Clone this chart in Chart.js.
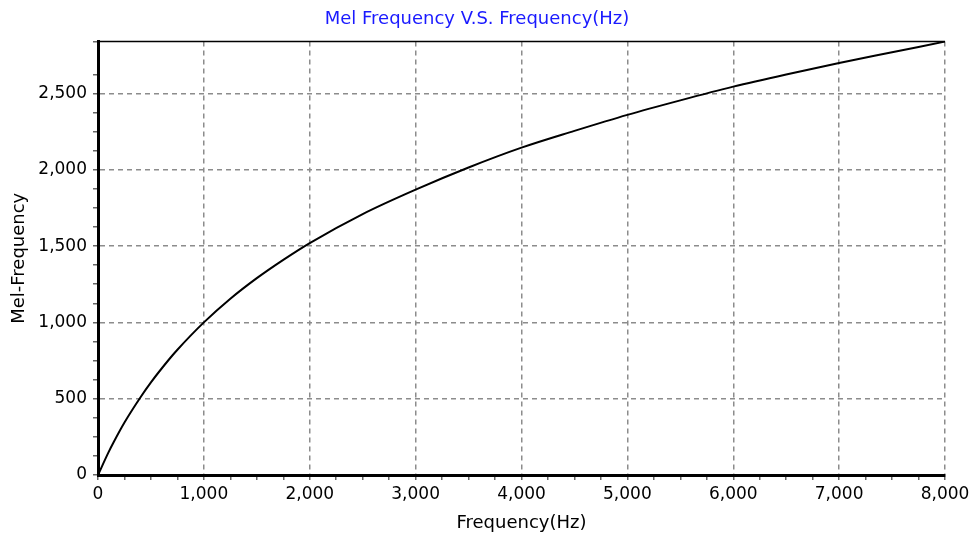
<!DOCTYPE html>
<html>
<head>
<meta charset="utf-8">
<script src="https://cdn.jsdelivr.net/npm/chart.js@4"></script>
<style>
  html, body { margin: 0; padding: 0; background: #fff; }
  #wrap { width: 970px; height: 536px; }
</style>
</head>
<body>
<div id="wrap"><canvas id="chart" width="970" height="536"></canvas></div>
<script>
// values
const freqHz = [0, 100, 150, 250, 400, 500, 680, 750, 1000, 1250, 1500, 1750, 2000, 2500, 3000, 3500, 4000, 4500, 5000, 5500, 6000, 6500, 7000, 7500, 8000];
const melFreq = [0, 150, 218, 344, 508, 607, 765, 821, 1000, 1155, 1290, 1410, 1520, 1710, 1870, 2015, 2145, 2255, 2360, 2455, 2545, 2625, 2700, 2770, 2840];

const xTickStep = 250, xLabelStep = 1000;
const yTickStep = 125, yLabelStep = 500;
const xMax = 8000, yMax = 2840;

const fmt = v => v.toLocaleString('en-US');

// solid top frame line
const topBorder = {
  id: 'topBorder',
  afterDraw(chart) {
    const { ctx, chartArea } = chart;
    ctx.save();
    ctx.strokeStyle = '#000';
    ctx.lineWidth = 1.5;
    ctx.beginPath();
    ctx.moveTo(chartArea.left, chartArea.top);
    ctx.lineTo(chartArea.right, chartArea.top);
    ctx.stroke();
    ctx.restore();
  }
};

const ctx = document.getElementById('chart').getContext('2d');
new Chart(ctx, {
  type: 'line',
  data: {
    datasets: [{
      data: freqHz.map((f, i) => ({ x: f, y: melFreq[i] })),
      borderColor: '#000',
      borderWidth: 2,
      pointRadius: 0,
      cubicInterpolationMode: 'monotone',
      fill: false
    }]
  },
  options: {
    responsive: false,
    animation: false,
    layout: { padding: { left: 9, right: 25, top: 0, bottom: 0 } },
    plugins: {
      legend: { display: false },
      tooltip: { enabled: false },
      title: {
        display: true,
        text: 'Mel Frequency V.S. Frequency(Hz)',
        color: '#1a1aff',
        font: { family: 'DejaVu Sans', size: 18, weight: 'normal' },
        padding: { top: 9, bottom: 11 }
      }
    },
    scales: {
      x: {
        type: 'linear',
        min: 0,
        max: xMax,
        afterFit: s => { s.height = 61; s.paddingRight = 0; },
        ticks: {
          stepSize: xTickStep,
          autoSkip: false,
          maxRotation: 0,
          color: '#000',
          padding: 4,
          font: { family: 'DejaVu Sans', size: 17 },
          callback: v => (v % xLabelStep === 0 ? fmt(v) : '')
        },
        grid: {
          color: c => (c.tick && c.tick.value % xLabelStep === 0 && c.tick.value !== 0 ? '#8c8c8c' : 'transparent'),
          lineWidth: 1.5,
          tickColor: '#666',
          tickLength: 5
        },
        border: { display: true, color: '#000', width: 3, dash: [5, 4] },
        title: {
          display: true,
          text: 'Frequency(Hz)',
          color: '#000',
          font: { family: 'DejaVu Sans', size: 18 },
          padding: { top: 0, bottom: 2 }
        }
      },
      y: {
        type: 'linear',
        min: 0,
        max: yMax,
        afterFit: s => { s.width = 89; },
        ticks: {
          stepSize: yTickStep,
          autoSkip: false,
          color: '#000',
          padding: 6,
          font: { family: 'DejaVu Sans', size: 17 },
          callback: v => (v % yLabelStep === 0 ? fmt(v) : '')
        },
        grid: {
          color: c => (c.tick && c.tick.value % yLabelStep === 0 && c.tick.value !== 0 ? '#8c8c8c' : 'transparent'),
          lineWidth: 1.5,
          tickColor: '#666',
          tickLength: 5
        },
        border: { display: true, color: '#000', width: 3, dash: [5, 4] },
        title: {
          display: true,
          text: 'Mel-Frequency',
          color: '#000',
          font: { family: 'DejaVu Sans', size: 18 },
          padding: { top: 0, bottom: 4 }
        }
      }
    }
  },
  plugins: [topBorder]
});
</script>
</body>
</html>
